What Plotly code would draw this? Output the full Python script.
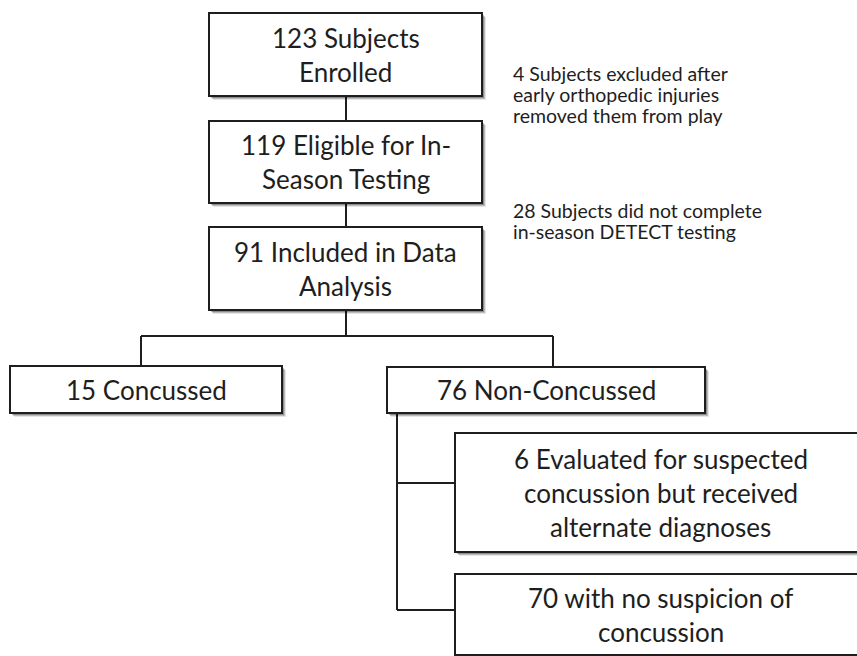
import plotly.graph_objects as go

# ---- content (text data) ----
box_labels = [
    ["123 Subjects", "Enrolled"],
    ["119 Eligible for In-", "Season Testing"],
    ["91 Included in Data", "Analysis"],
    ["15 Concussed"],
    ["76 Non-Concussed"],
    ["6 Evaluated for suspected", "concussion but received", "alternate diagnoses"],
    ["70 with no suspicion of", "concussion"],
]
note_labels = [
    ["4 Subjects excluded after", "early orthopedic injuries", "removed them from play"],
    ["28 Subjects did not complete", "in-season DETECT testing"],
]

# ---- layout geometry (pixel-space diagram coordinates) ----
W, H = 857, 656
box_geom = [  # x0, y0, x1, y1
    (209, 13, 482, 96),
    (209, 121, 482, 203),
    (209, 227, 482, 310),
    (10, 366, 282, 413),
    (387, 367, 705, 413),
    (455, 433, 866, 552),
    (455, 574, 866, 655),
]
line_step = 34
note_geom = [(511, 73), (511, 210)]
note_step = 21
connectors = [  # polylines
    [(346, 96), (346, 121)],
    [(346, 203), (346, 227)],
    [(346, 310), (346, 336)],
    [(141, 366), (141, 336), (553, 336), (553, 367)],
    [(397, 413), (397, 610)],
    [(397, 483), (455, 483)],
    [(397, 610), (455, 610)],
]

INK = "#1e1e1e"
FONT = "Lato"

fig = go.Figure()
shapes = []
annotations = []

for poly in connectors:
    for (xa, ya), (xb, yb) in zip(poly[:-1], poly[1:]):
        shapes.append(dict(type="line", xref="x", yref="y", x0=xa, y0=ya, x1=xb, y1=yb,
                           line=dict(color=INK, width=2), layer="above"))

for (x0, y0, x1, y1), lines in zip(box_geom, box_labels):
    # soft drop shadow
    for off, op in [(4, 0.10), (3, 0.18), (2, 0.25)]:
        shapes.append(dict(type="rect", xref="x", yref="y", x0=x0 + off, y0=y0 + off,
                           x1=x1 + off, y1=y1 + off, fillcolor=f"rgba(0,0,0,{op})",
                           line=dict(width=0), layer="above"))
    shapes.append(dict(type="rect", xref="x", yref="y", x0=x0, y0=y0, x1=x1, y1=y1,
                       fillcolor="white", line=dict(color=INK, width=2), layer="above"))
    cx = (x0 + x1) / 2
    cy = (y0 + y1) / 2
    n = len(lines)
    for i, t in enumerate(lines):
        y = cy + (i - (n - 1) / 2) * line_step
        annotations.append(dict(x=cx, y=y, xref="x", yref="y", text=t, showarrow=False,
                                xanchor="center", yanchor="middle",
                                font=dict(family=FONT, size=26, color=INK)))

for (nx, ny), lines in zip(note_geom, note_labels):
    for i, t in enumerate(lines):
        annotations.append(dict(x=nx, y=ny + i * note_step, xref="x", yref="y", text=t,
                                showarrow=False, xanchor="left", yanchor="middle",
                                font=dict(family=FONT, size=19.5, color=INK)))

fig.update_layout(
    width=W, height=H, margin=dict(l=0, r=0, t=0, b=0),
    paper_bgcolor="white", plot_bgcolor="white",
    xaxis=dict(range=[0, W], visible=False, fixedrange=True),
    yaxis=dict(range=[H, 0], visible=False, fixedrange=True),
    shapes=shapes, annotations=annotations, showlegend=False,
)
fig.write_html(
    "out.html",
    config={"displayModeBar": False},
    post_script="document.body.style.margin='0';document.body.style.overflow='hidden';",
)
